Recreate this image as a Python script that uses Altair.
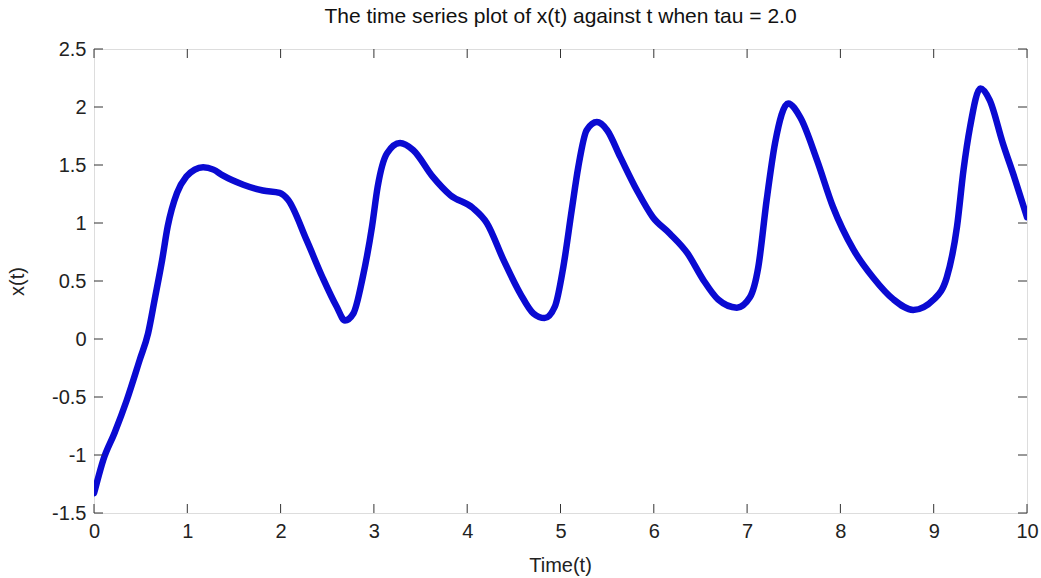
import altair as alt
import pandas as pd

t_vals = [0.0, 0.01, 0.1, 0.22, 0.35, 0.49, 0.58, 0.65, 0.73, 0.79, 0.89, 0.99, 1.08, 1.17, 1.28, 1.38,
          1.60, 1.81, 1.99, 2.08, 2.28, 2.45, 2.60, 2.69, 2.78, 2.88, 2.98, 3.04, 3.14, 3.28,
          3.42, 3.63, 3.82, 4.06, 4.21, 4.39, 4.57, 4.71, 4.83, 4.94, 5.03, 5.12, 5.19, 5.28,
          5.39, 5.50, 5.64, 5.82, 5.99, 6.17, 6.36, 6.53, 6.69, 6.89, 7.03, 7.12, 7.21, 7.30,
          7.44, 7.57, 7.75, 7.92, 8.14, 8.35, 8.57, 8.78, 9.00, 9.14, 9.25, 9.32, 9.39, 9.50,
          9.60, 9.74, 9.87, 10.0]
x_vals = [-1.33, -1.30, -1.04, -0.81, -0.53, -0.18, 0.05, 0.34, 0.68, 0.97, 1.26, 1.40, 1.46, 1.48, 1.46, 1.41,
          1.33, 1.28, 1.26, 1.20, 0.85, 0.53, 0.28, 0.16, 0.22, 0.53, 0.97, 1.31, 1.60, 1.69,
          1.63, 1.40, 1.24, 1.13, 1.00, 0.68, 0.39, 0.22, 0.18, 0.28, 0.62, 1.11, 1.48, 1.80,
          1.87, 1.80, 1.57, 1.28, 1.05, 0.91, 0.74, 0.51, 0.34, 0.27, 0.36, 0.62, 1.20, 1.69,
          2.03, 1.91, 1.54, 1.14, 0.77, 0.53, 0.34, 0.25, 0.34, 0.53, 0.97, 1.46, 1.83, 2.16,
          2.06, 1.69, 1.38, 1.05]

x_ticks = [0, 1, 2, 3, 4, 5, 6, 7, 8, 9, 10]
y_ticks = [-1.5, -1, -0.5, 0, 0.5, 1, 1.5, 2, 2.5]

W, H = 933, 464
FONT = "Liberation Sans"
FS = 20

df = pd.DataFrame({"t": t_vals, "x": x_vals})
xt = pd.DataFrame({"v": x_ticks})
yt = pd.DataFrame({"v": y_ticks})

xscale = alt.Scale(domain=[0, 10], nice=False, zero=False)
yscale = alt.Scale(domain=[-1.5, 2.5], nice=False, zero=False)

line = alt.Chart(df).mark_line(
    color="#0a0ad2", strokeWidth=6.5, strokeJoin="round", strokeCap="round",
    interpolate="monotone", clip=True
).encode(
    x=alt.X("t:Q", scale=xscale, axis=alt.Axis(
        values=x_ticks, tickSize=0, domain=False, grid=False, labelFlush=False,
        labelExpr="'' + datum.value",
        labelFont=FONT, labelFontSize=FS, labelColor="#222", labelPadding=8,
        title="Time(t)", titleFont=FONT, titleFontSize=FS, titleFontWeight="normal",
        titleColor="#222", titleX=466, titleY=52, titleAlign="center", titleBaseline="middle")),
    y=alt.Y("x:Q", scale=yscale, axis=alt.Axis(
        values=y_ticks, tickSize=0, domain=False, grid=False, labelFlush=False,
        labelFont=FONT, labelFontSize=FS, labelColor="#222", labelPadding=8,
        labelExpr="'' + datum.value",
        title="x(t)", titleFont=FONT, titleFontSize=FS, titleFontWeight="normal",
        titleColor="#222", titleX=-77, titleY=232, titleAlign="center",
        titleBaseline="middle", titleAngle=270)),
)

tick_len = 9
xb = alt.Chart(xt).mark_rule(color="#333", strokeWidth=1).encode(
    x=alt.X("v:Q", scale=xscale), y=alt.value(H), y2=alt.value(H - tick_len))
xtop = alt.Chart(xt).mark_rule(color="#333", strokeWidth=1).encode(
    x=alt.X("v:Q", scale=xscale), y=alt.value(0), y2=alt.value(tick_len))
yl = alt.Chart(yt).mark_rule(color="#333", strokeWidth=1).encode(
    y=alt.Y("v:Q", scale=yscale), x=alt.value(0), x2=alt.value(tick_len))
yr = alt.Chart(yt).mark_rule(color="#333", strokeWidth=1).encode(
    y=alt.Y("v:Q", scale=yscale), x=alt.value(W), x2=alt.value(W - tick_len))

chart = alt.layer(line, xb, xtop, yl, yr).properties(
    width=W, height=H,
    title=alt.TitleParams("The time series plot of x(t) against t when tau = 2.0",
                          font=FONT, fontSize=21, fontWeight="normal", color="#111",
                          anchor="middle", offset=12),
    autosize=alt.AutoSizeParams(type="none"),
    padding={"left": 94, "top": 49, "right": 14, "bottom": 65},
).configure_view(stroke="#333", strokeWidth=1.5).configure(background="white")

chart.save("out.html", embed_options={"renderer": "svg", "actions": False})
